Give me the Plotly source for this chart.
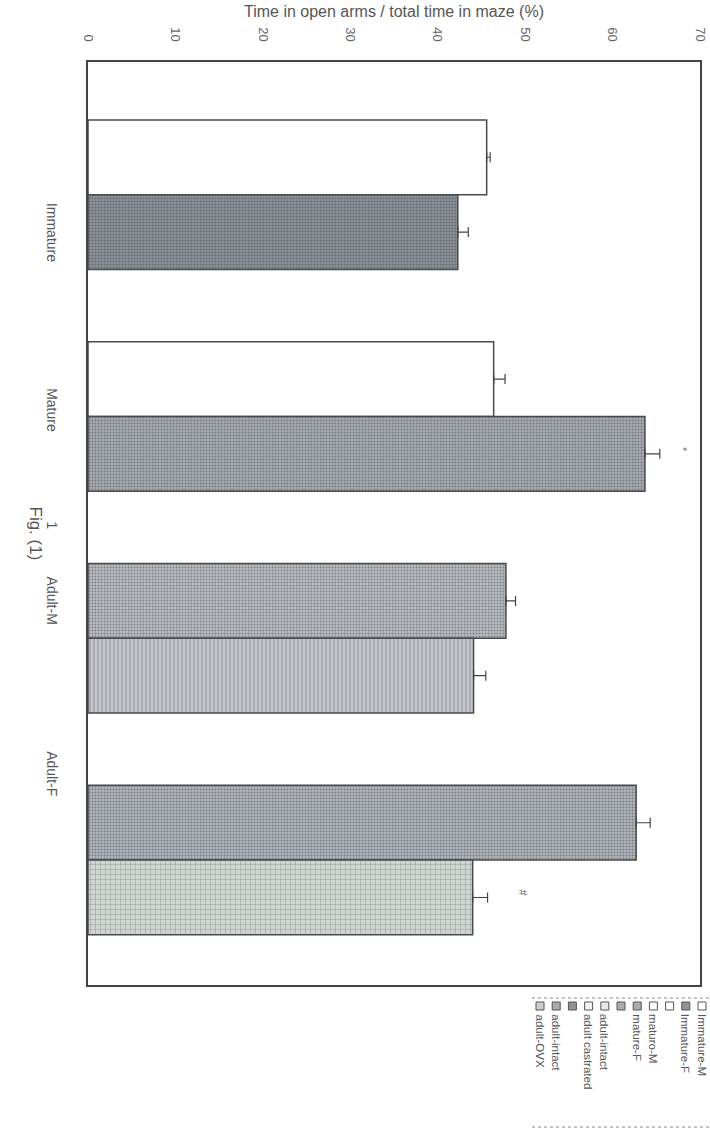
import plotly.graph_objects as go

# ---------------- data ----------------
groups = ["Immature", "Mature", "Adult-M", "Adult-F"]
upper_names = ["Immature-M", "maturo-M", "adult-intact", "adult-intact"]
upper_vals = [45.6, 46.4, 47.8, 62.7]
upper_err = [0.4, 1.3, 1.1, 1.6]
lower_names = ["Immature-F", "mature-F", "adult castrated", "adult-OVX"]
lower_vals = [42.3, 63.7, 44.1, 44.0]
lower_err = [1.2, 1.7, 1.4, 1.7]
lower_marks = ["", "*", "", "#"]

category_labels = ["Immature", "Mature", "1", "Adult-M", "Adult-F"]
category_label_pos = [0.18, 0.98, 1.50, 1.84, 2.62]

x_ticks = [0, 10, 20, 30, 40, 50, 60, 70]
x_title = "Time in open arms / total time in maze (%)"

legend_labels = ["Immature-M", "Immature-F", "", "maturo-M", "mature-F", "",
                 "adult-intact", "adult castrated", "", "adult-intact", "adult-OVX"]
legend_fills = ["#ffffff", "#8d929b", "#ffffff", "#ffffff", "#a7abb2", "#a7abb2",
                "#e6e8eb", "#f2f3f5", "#8d929b", "#a7abb2", "#c9cfcb"]

# ---------------- geometry helpers ----------------
W, H = 710, 1131
ML, MR, MT, MB = 88, 10, 62, 146
PW, PH = W - ML - MR, H - MT - MB


def px(xp):
    return (xp - ML) / PW


def py(yp):
    return (H - MB - yp) / PH


bar_w = 0.337
positions = list(range(len(groups)))

fig = go.Figure()

# upper bars of each group
fig.add_trace(go.Bar(
    y=positions, x=upper_vals, orientation="h",
    width=bar_w, offset=-bar_w,
    customdata=upper_names,
    marker=dict(
        color=["#ffffff", "#ffffff", "#b9bcc2", "#b0b4bb"],
        line=dict(color="#4a4a4a", width=1.5),
        pattern=dict(shape=["", "", ".", "."],
                     fgcolor=["#ffffff", "#ffffff", "#8f949c", "#878b93"],
                     bgcolor=["#ffffff", "#ffffff", "#c3c6cc", "#babec4"],
                     size=3, solidity=0.35),
    ),
    error_x=dict(type="data", symmetric=False, array=upper_err,
                 arrayminus=[0] * len(upper_err), color="#444444",
                 thickness=1.2, width=5),
    showlegend=False,
))

# lower bars of each group
fig.add_trace(go.Bar(
    y=positions, x=lower_vals, orientation="h",
    width=bar_w, offset=0,
    customdata=lower_names,
    marker=dict(
        color=["#8d929b", "#a7abb2", "#c3c6cc", "#cdd6d0"],
        line=dict(color="#4a4a4a", width=1.5),
        pattern=dict(shape=[".", ".", "|", "+"],
                     fgcolor=["#5f646d", "#7f838b", "#a3a7ae", "#7a8280"],
                     bgcolor=["#9ea2aa", "#b4b7be", "#c6c9ce", "#d3dcd6"],
                     size=[3, 3, 4, 5], solidity=[0.4, 0.35, 0.2, 0.15]),
    ),
    error_x=dict(type="data", symmetric=False, array=lower_err,
                 arrayminus=[0] * len(lower_err), color="#444444",
                 thickness=1.2, width=5),
    showlegend=False,
))

annotations = []
# significance marks
for i, (v, e, m) in enumerate(zip(lower_vals, lower_err, lower_marks)):
    if m:
        annotations.append(dict(x=v + e + 2.6 + (1.4 if m == "#" else 0),
                                y=positions[i] + bar_w / 2 - 0.02,
                                xref="x", yref="y", text=m, showarrow=False,
                                textangle=90,
                                font=dict(size=11, color="#666666")))

# Fig. (1)
annotations.append(dict(x=px(24), y=py(533), xref="paper", yref="paper",
                        text="Fig. (1)", showarrow=False, textangle=90,
                        font=dict(size=17, color="#555555")))

# manual rotated legend
shapes = []
leg_x0 = 702
leg_dx = 16.2
for k, (lab, fc) in enumerate(zip(legend_labels, legend_fills)):
    xc = leg_x0 - k * leg_dx
    shapes.append(dict(type="rect", xref="paper", yref="paper",
                       x0=px(xc - 4), x1=px(xc + 4), y0=py(1010), y1=py(1002),
                       fillcolor=fc, line=dict(color="#555555", width=1)))
    if lab:
        annotations.append(dict(x=px(xc), y=py(1012), xref="paper", yref="paper",
                                text=lab, showarrow=False, textangle=90,
                                xanchor="center", yanchor="top",
                                font=dict(size=11.5, color="#555555")))
for yl in (998, 1127):
    shapes.append(dict(type="line", xref="paper", yref="paper",
                       x0=px(532), x1=px(709), y0=py(yl), y1=py(yl),
                       line=dict(color="#888888", width=1, dash="dot")))

fig.update_layout(
    width=W, height=H,
    margin=dict(l=ML, r=MR, t=MT, b=MB, autoexpand=False),
    paper_bgcolor="white", plot_bgcolor="white",
    barmode="overlay",
    font=dict(family="Liberation Sans, Arial, sans-serif", size=12, color="#555555"),
    annotations=annotations,
    shapes=shapes,
    xaxis=dict(side="top", range=[0, 70], tickvals=x_ticks, tickangle=90,
               showgrid=False, zeroline=False, ticks="", automargin=False,
               showline=True, mirror=True, linecolor="#444444", linewidth=1.5,
               ticklabelstandoff=14,
               tickfont=dict(size=13, color="#666666"),
               title=dict(text=x_title, standoff=6,
                          font=dict(size=16, color="#555555"))),
    yaxis=dict(range=[3.563, -0.598], tickvals=category_label_pos,
               ticktext=category_labels, tickangle=90, automargin=False,
               showgrid=False, zeroline=False, ticks="",
               showline=True, mirror=True, linecolor="#444444", linewidth=1.5,
               ticklabelstandoff=22,
               tickfont=dict(size=14, color="#555555")),
)

fig.write_html(
    "out.html",
    config={"displayModeBar": False},
    post_script="document.body.style.margin='0';document.body.style.overflow='hidden';",
)
